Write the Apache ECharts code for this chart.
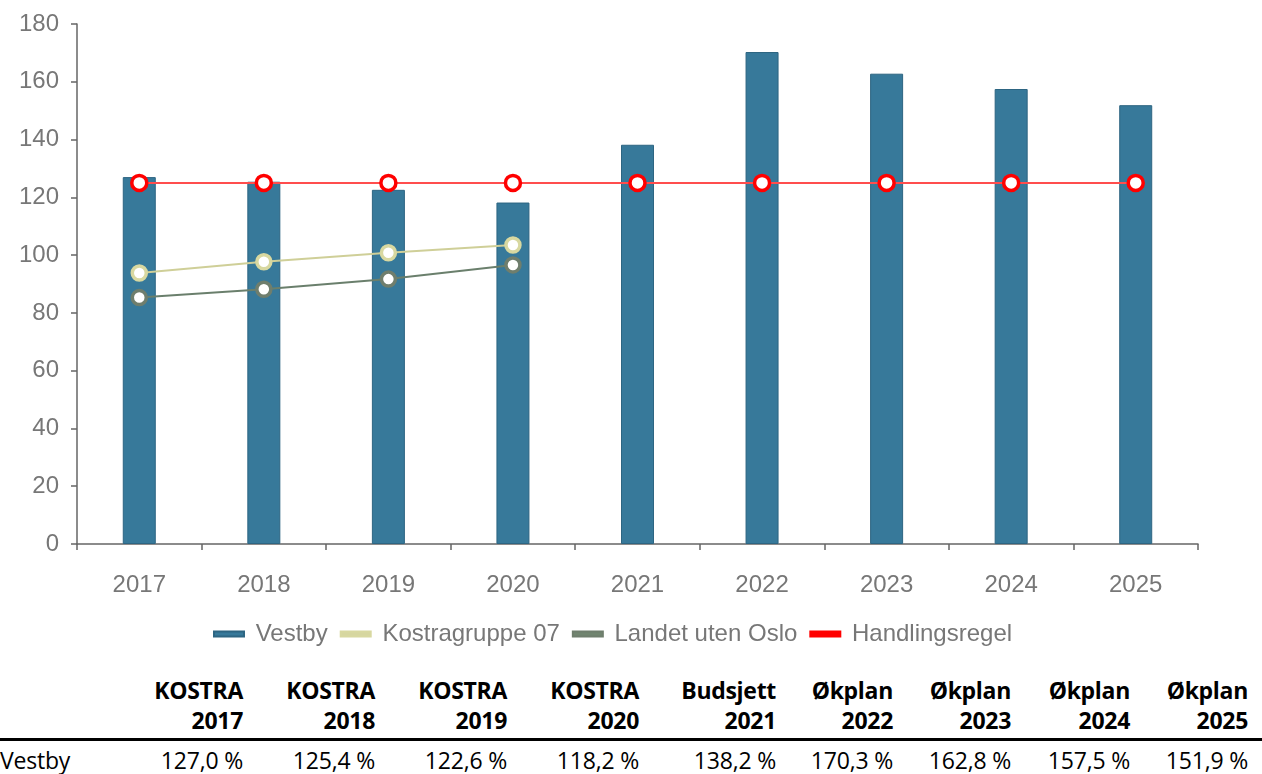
<!DOCTYPE html>
<html><head><meta charset="utf-8">
<script src="https://cdn.jsdelivr.net/npm/echarts@6/dist/echarts.min.js"></script>
<style>
html,body{margin:0;padding:0;background:#fff;width:1262px;height:774px;overflow:hidden}
#chart{position:absolute;left:0;top:0;width:1262px;height:660px}
#tbl{position:absolute;left:0;top:675px;width:1262px;border-collapse:collapse;font-family:"Open Sans","Noto Sans",sans-serif;font-size:23px;color:#000}
#tbl th{font-weight:bold;font-size:23px;letter-spacing:-0.3px;text-align:right;line-height:30px;padding:0 0 3px 0;vertical-align:bottom;border-bottom:3px solid #000}
#tbl td{text-align:right;line-height:38px;padding:0;letter-spacing:-0.2px}
#tbl td.rh{text-align:left}
</style></head>
<body>
<div id="chart"></div>
<table id="tbl"></table>
<script>
const categories = ['2017','2018','2019','2020','2021','2022','2023','2024','2025'];
const headerTop = ['KOSTRA','KOSTRA','KOSTRA','KOSTRA','Budsjett','Økplan','Økplan','Økplan','Økplan'];
const vestby = [127.0,125.4,122.6,118.2,138.2,170.3,162.8,157.5,151.9];
const kostragruppe07 = [93.8,97.7,100.8,103.5,null,null,null,null,null];
const landetUtenOslo = [85.3,88.2,91.7,96.6,null,null,null,null,null];
const handlingsregel = [125,125,125,125,125,125,125,125,125];
const yTicks = {min:0,max:180,interval:20};

const chart = echarts.init(document.getElementById('chart'));
const FONT = 'Liberation Sans';
const txt = {color:'#777', fontFamily:FONT, fontSize:24};
function lineSeries(name,data,color,lineColor,z){
  return {name,type:'line',data,z,symbol:'circle',symbolSize:14,showSymbol:true,
    lineStyle:{color:lineColor,width:2},
    itemStyle:{color:'#fff',borderColor:color,borderWidth:3.5},
    emphasis:{disabled:true}};
}
chart.setOption({
  animation:false,
  grid:{left:77,right:64,top:24,bottom:116},
  legend:{top:617,left:208,itemWidth:30,itemHeight:5,itemGap:12,icon:'rect',
    formatter:n=>' '+n,
    textStyle:{color:'#777',fontFamily:FONT,fontSize:24},
    data:[{name:'Vestby',itemStyle:{color:'#37799a'}},
          {name:'Kostragruppe 07',itemStyle:{color:'#d6d6a0'}},
          {name:'Landet uten Oslo',itemStyle:{color:'#718570'}},
          {name:'Handlingsregel',itemStyle:{color:'#ff0000'}}]},
  xAxis:{type:'category',data:categories,boundaryGap:true,
    axisLine:{lineStyle:{color:'#666',width:1.5}},
    axisTick:{show:true,length:6,lineStyle:{color:'#666',width:1.5}},
    axisLabel:{...txt,margin:29}},
  yAxis:{type:'value',min:yTicks.min,max:yTicks.max,interval:yTicks.interval,
    axisLine:{show:true,lineStyle:{color:'#666',width:1.5}},
    axisTick:{show:true,length:6,lineStyle:{color:'#666',width:1.5}},
    splitLine:{show:false},
    axisLabel:{...txt,margin:18}},
  series:[
    {name:'Vestby',type:'bar',data:vestby,barWidth:33,z:2,
      itemStyle:{color:'#37799a',borderColor:'#2d6582',borderWidth:1}},
    lineSeries('Kostragruppe 07',kostragruppe07,'#d8d8a0','#cfcf98',4),
    lineSeries('Landet uten Oslo',landetUtenOslo,'#6f7e6d','#6a7f6c',3),
    {...lineSeries('Handlingsregel',handlingsregel,'#ff0000','#ff4d4d',5),symbolSize:15}
  ]
});

const tbl = document.getElementById('tbl');
const widths = [130,113,132,132,132,137,117,118,119,118];
let cg = '<colgroup>'+widths.map(w=>`<col style="width:${w}px">`).join('')+'<col></colgroup>';
let h = '<tr><th></th>'+categories.map((c,i)=>`<th>${headerTop[i]}<br>${c}</th>`).join('')+'<th style="width:14px"></th></tr>';
let b = '<tr><td class="rh">Vestby</td>'+vestby.map(v=>`<td>${v.toFixed(1).replace('.',',')}&nbsp;%</td>`).join('')+'<td></td></tr>';
tbl.innerHTML = cg+h+b;
</script>
</body></html>
